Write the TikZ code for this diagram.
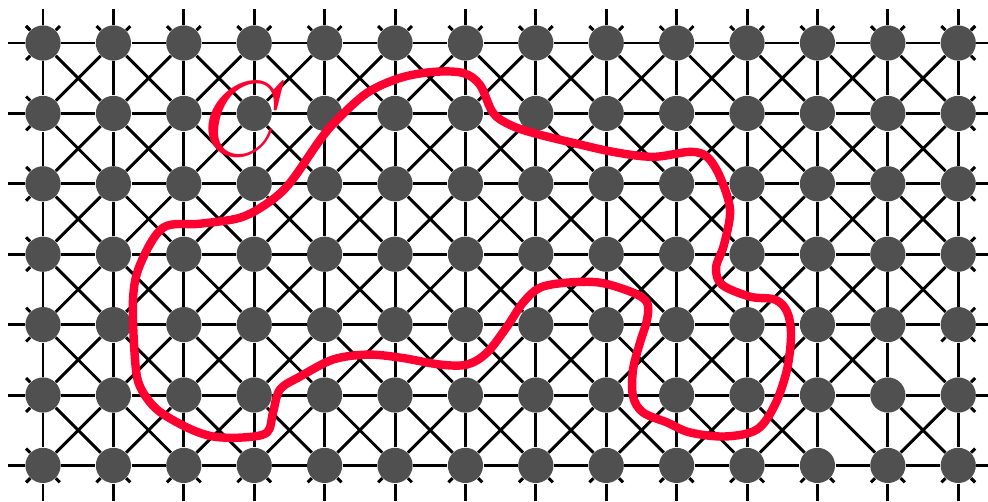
\documentclass[tikz,border=0pt]{standalone}
\usepackage{tikz}
\usetikzlibrary{calc}
\definecolor{SiteGray}{HTML}{505050}
\definecolor{LoopRed}{HTML}{FF0030}
\tikzset{
  site/.style={circle,fill=SiteGray,inner sep=0pt,minimum size=5mm},
  bond/.style={line width=1.2pt,black},
  loopline/.style={line width=3.4pt,LoopRed,line join=round}
}

\begin{document}
\begin{tikzpicture}
  \useasboundingbox (-0.611,0.611) rectangle (13.423,-6.506);
  \clip (-0.611,0.611) rectangle (13.423,-6.506);

  % lattice sites
  \foreach \i in {0,...,13}
    \foreach \j in {0,...,6}
      \node[site] (s\i-\j) at (\i,-\j) {};

  % free ends of the boundary bonds
  \foreach \j in {0,...,6} {
    \coordinate (w\j) at (-0.5,-\j);
    \coordinate (e\j) at (13.5,-\j);
  }
  \foreach \i in {0,...,13} {
    \coordinate (n\i) at (\i,0.48);
    \coordinate (b\i) at (\i,-6.5);
  }

  % horizontal and vertical bonds
  \foreach \j in {0,...,6} {
    \draw[bond] (w\j) -- (s0-\j);
    \draw[bond] (s13-\j) -- (e\j);
    \foreach \i in {0,...,12} {
      \pgfmathtruncatemacro\ii{\i+1}
      \draw[bond] (s\i-\j) -- (s\ii-\j);
    }
  }
  \foreach \i in {0,...,13} {
    \draw[bond] (n\i) -- (s\i-0);
    \draw[bond] (s\i-6) -- (b\i);
    \foreach \j in {0,...,5} {
      \pgfmathtruncatemacro\jj{\j+1}
      \draw[bond] (s\i-\j) -- (s\i-\jj);
    }
  }

  % diagonal bonds (two of them are missing)
  \foreach \i in {0,...,12}
    \foreach \j in {0,...,5} {
      \pgfmathtruncatemacro\ii{\i+1}
      \pgfmathtruncatemacro\jj{\j+1}
      \draw[bond] (s\i-\j) -- (s\ii-\jj);
      \ifnum\i\j=124 \else \ifnum\i\j=115 \else
        \draw[bond] (s\ii-\j) -- (s\i-\jj);
      \fi\fi
    }

  % short diagonal stubs on the border
  \foreach \i in {0,...,13} {
    \draw[bond] (s\i-0) -- ++(-0.24,0.24);
    \draw[bond] (s\i-0) -- ++(0.24,0.24);
    \draw[bond] (s\i-6) -- ++(-0.24,-0.24);
    \draw[bond] (s\i-6) -- ++(0.24,-0.24);
  }
  \foreach \j in {0,...,6} {
    \draw[bond] (s0-\j) -- ++(-0.24,0.24);
    \draw[bond] (s0-\j) -- ++(-0.24,-0.24);
    \draw[bond] (s13-\j) -- ++(0.24,0.24);
    \draw[bond] (s13-\j) -- ++(0.24,-0.24);
  }
  \draw[bond] (s13-4) -- ++(-0.24,-0.24);

  % the loop C
  \draw[loopline] plot[smooth cycle,tension=0.55] coordinates {
    (1.278,-3.645) (1.378,-3.149) (1.705,-2.624) (2.230,-2.567)
    (2.798,-2.482) (3.196,-2.270) (3.509,-1.986) (3.935,-1.376)
    (4.176,-1.092) (4.602,-0.709) (5.071,-0.496) (5.540,-0.411)
    (5.966,-0.426) (6.207,-0.596) (6.392,-0.993) (6.634,-1.163)
    (6.960,-1.277) (7.528,-1.418) (8.097,-1.546) (8.665,-1.617)
    (9.190,-1.546) (9.432,-1.617) (9.616,-1.901) (9.759,-2.369)
    (9.673,-2.865) (9.560,-3.191) (9.645,-3.433) (10.043,-3.603)
    (10.398,-3.645) (10.568,-3.816) (10.625,-4.142) (10.568,-4.638)
    (10.398,-5.135) (10.142,-5.489) (9.688,-5.589) (9.190,-5.532)
    (8.864,-5.390) (8.523,-5.248) (8.381,-5.021) (8.381,-4.638)
    (8.480,-4.255) (8.580,-3.929) (8.580,-3.688) (8.381,-3.546)
    (7.912,-3.404) (7.443,-3.404) (7.060,-3.475) (6.818,-3.688)
    (6.591,-4.028) (6.307,-4.397) (6.023,-4.567) (5.639,-4.567)
    (5.071,-4.468) (4.602,-4.426) (4.119,-4.496) (3.651,-4.738)
    (3.366,-4.922) (3.267,-5.248) (3.182,-5.532) (2.841,-5.603)
    (2.415,-5.589) (2.045,-5.461) (1.619,-5.206) (1.378,-4.879)
    (1.307,-4.496)};
  \node[text=LoopRed,scale=4.3,inner sep=0pt] (lab) at (2.88,-1.08) {$C$};
\end{tikzpicture}
\end{document}
